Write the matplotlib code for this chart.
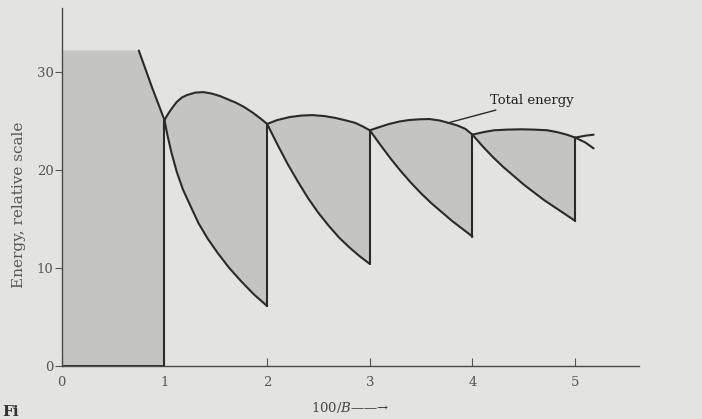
import numpy as np
import matplotlib
matplotlib.use('Agg')
import matplotlib.pyplot as plt

# values (x = 100/B, y = energy, relative scale)
left_x = [0.75, 0.88, 1.00]
left_y = [32.2, 28.4, 25.1]

top_x = [
    [1.0, 1.04, 1.08, 1.12, 1.17, 1.22, 1.30, 1.38, 1.46, 1.54, 1.62, 1.70,
     1.78, 1.86, 1.93, 2.0],
    [2.0, 2.1, 2.22, 2.33, 2.44, 2.56, 2.67, 2.77, 2.86, 2.93, 3.0],
    [3.0, 3.1, 3.19, 3.29, 3.385, 3.48, 3.58, 3.68, 3.77, 3.85, 3.93, 4.0],
    [4.0, 4.1, 4.21, 4.34, 4.47, 4.6, 4.73, 4.83, 4.92, 5.0],
]
top_y = [
    [25.1, 25.8, 26.4, 26.95, 27.4, 27.65, 27.9, 27.95, 27.8, 27.55, 27.2,
     26.85, 26.4, 25.85, 25.3, 24.7],
    [24.7, 25.1, 25.4, 25.55, 25.6, 25.5, 25.3, 25.05, 24.8, 24.45, 24.05],
    [24.05, 24.4, 24.7, 24.95, 25.1, 25.17, 25.2, 25.05, 24.8, 24.55, 24.2,
     23.6],
    [23.6, 23.85, 24.05, 24.12, 24.15, 24.12, 24.05, 23.85, 23.6, 23.3],
]
low_x = [
    [1.0, 1.03, 1.07, 1.12, 1.18, 1.25, 1.33, 1.42, 1.52, 1.63, 1.75, 1.87,
     2.0],
    [2.0, 2.1, 2.2, 2.3, 2.4, 2.5, 2.6, 2.7, 2.8, 2.9, 3.0],
    [3.0, 3.1, 3.2, 3.3, 3.4, 3.5, 3.6, 3.7, 3.8, 3.9, 4.0],
    [4.0, 4.1, 4.2, 4.3, 4.4, 4.5, 4.6, 4.7, 4.8, 4.9, 5.0],
]
low_y = [
    [25.1, 23.5, 21.7, 19.8, 18.0, 16.4, 14.6, 13.0, 11.5, 10.0, 8.6, 7.3,
     6.1],
    [24.7, 22.6, 20.6, 18.8, 17.1, 15.6, 14.3, 13.1, 12.1, 11.2, 10.4],
    [24.05, 22.6, 21.2, 19.9, 18.7, 17.6, 16.6, 15.7, 14.8, 14.0, 13.2],
    [23.6, 22.4, 21.3, 20.3, 19.4, 18.5, 17.7, 16.9, 16.2, 15.5, 14.8],
]
tail_x = [5.0, 5.1, 5.18]
tail_top = [23.3, 23.5, 23.6]
tail_low = [23.3, 22.8, 22.2]

bg = '#e3e3e1'
shade = '#c4c4c2'
ink = '#2a2a2a'

plt.rcParams['font.family'] = ['DejaVu Serif']
plt.rcParams['mathtext.fontset'] = 'dejavuserif'

fig = plt.figure(figsize=(7.02, 4.19), dpi=100, facecolor=bg)
ax = fig.add_axes([0.088, 0.127, 0.822, 0.853])
ax.set_facecolor(bg)

lkw = dict(color=ink, lw=1.5, solid_joinstyle='round', solid_capstyle='round')

# shaded block on the left
px = [0, 0] + left_x + [1.0]
py = [0, left_y[0]] + left_y + [0]
ax.fill(px, py, color=shade, lw=0)
ax.plot(left_x, left_y, **lkw)
ax.plot([1.0, 1.0], [0, left_y[-1]], **lkw)
ax.plot([0, 1.0], [0, 0], color='#1e1e1e', lw=2.0, solid_capstyle='butt')

# shaded lobes between total energy and the falling level energy
for tx, ty, lx, ly in zip(top_x, top_y, low_x, low_y):
    ax.fill(tx + lx[::-1], ty + ly[::-1], color=shade, lw=0)
    ax.plot(tx, ty, **lkw)
    ax.plot(lx, ly, **lkw)
    ax.plot([tx[-1], lx[-1]], [ty[-1], ly[-1]], **lkw)
ax.plot(tail_x, tail_top, **lkw)
ax.plot(tail_x, tail_low, **lkw)

ax.annotate('Total energy', xy=(3.76, 24.8), xytext=(4.17, 27.1),
            fontsize=9.5, color='#222222', va='center', ha='left',
            arrowprops=dict(arrowstyle='-', color=ink, lw=1.0,
                            shrinkA=1, shrinkB=0))

ax.set_xlim(0, 5.62)
ax.set_ylim(0, 36.5)
for s in ['top', 'right']:
    ax.spines[s].set_visible(False)
for s in ['left', 'bottom']:
    ax.spines[s].set_color('#4a4a4a')
    ax.spines[s].set_linewidth(1.0)

ax.set_yticks([0, 10, 20, 30])
ax.set_xticks([0, 1, 2, 3, 4, 5])
ax.tick_params(axis='y', direction='out', length=5, width=0.8,
               colors='#555555', labelsize=9.5, pad=1)
ax.tick_params(axis='x', direction='in', length=6, width=0.8,
               colors='#555555', labelsize=9.5, pad=7)

ax.set_ylabel('Energy, relative scale', fontsize=11, color='#555555')
ax.yaxis.set_label_coords(-0.062, 0.45)
ax.set_xlabel(r'100/$B$' + '\u2014\u2014\u2192', fontsize=9.5,
              color='#444444', labelpad=8)

fig.text(0.003, 0.008, 'Fi', fontsize=11, color='#333333', weight='bold')

fig.savefig('out.png', dpi=100, facecolor=bg)
